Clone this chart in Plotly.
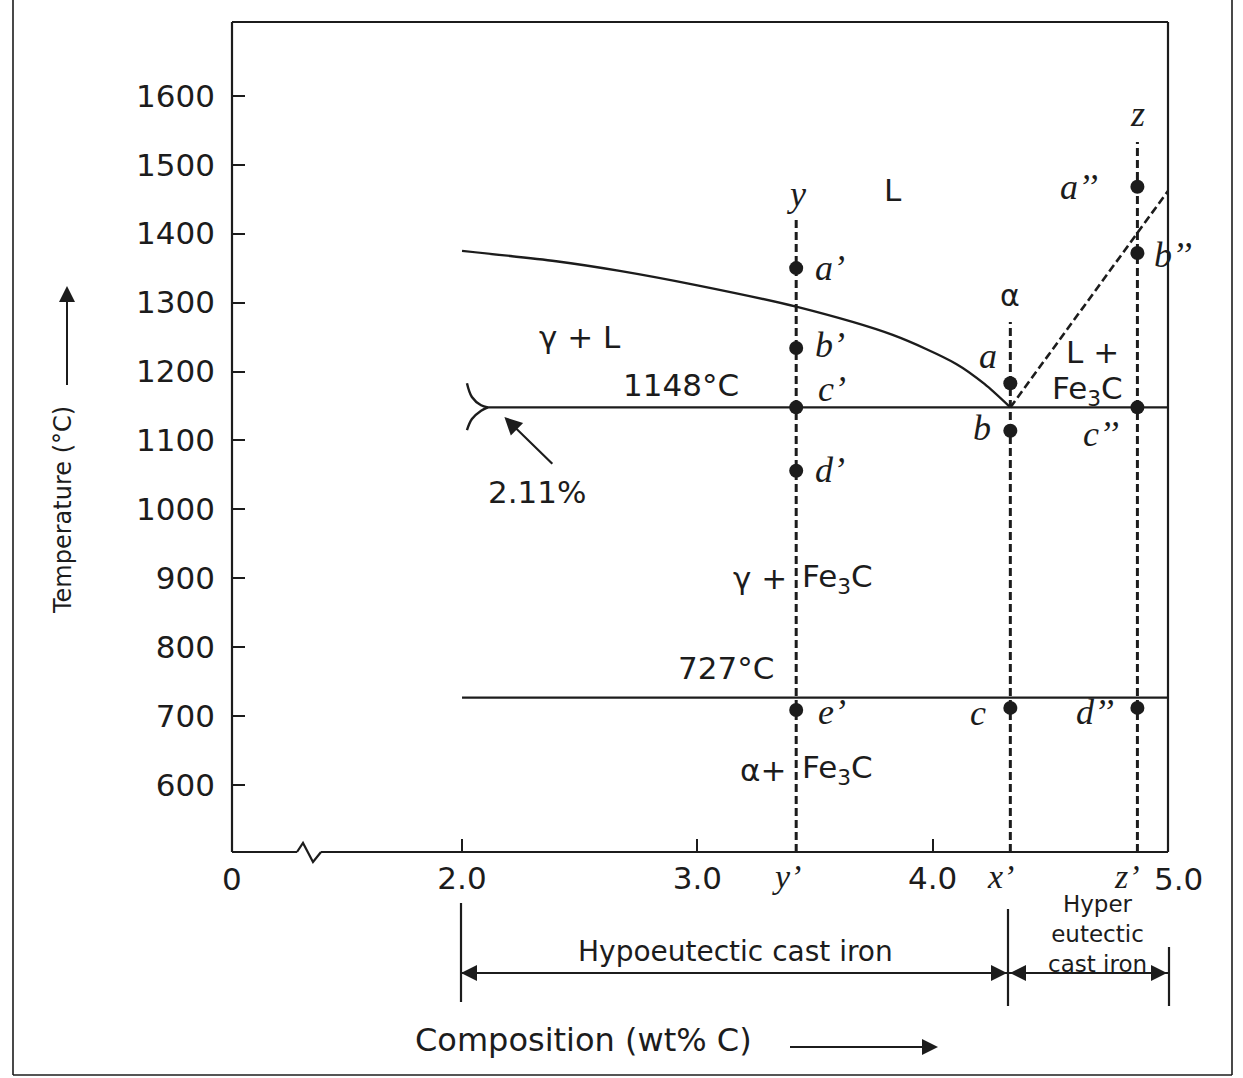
import plotly.graph_objects as go

# ---------------- data ----------------
# composition axis (wt% C); the stretch 0 -> 2.0 is drawn compressed behind an axis break
x_range = [1.0225, 5.0]
t_range = [503, 1707]
t_ticks = [600, 700, 800, 900, 1000, 1100, 1200, 1300, 1400, 1500, 1600]
x_ticks = [2.0, 3.0, 4.0]
x_tick_text = ["2.0", "3.0", "4.0"]

# invariant reactions
eutectic_t = 1148
eutectoid_t = 727
austenite_max_c = 2.11
hypo_start_c = 2.0
c_max = 5.0

# liquidus boundary between L and γ + L
liquidus_c = [2.0, 2.4, 2.67, 3.0, 3.42, 3.83, 4.1, 4.22, 4.33]
liquidus_t = [1375, 1360, 1346, 1325, 1294, 1253, 1211, 1182, 1148]

# Fe3C liquidus (dashed)
cementite_liq_c = [4.33, 5.0]
cementite_liq_t = [1148, 1462]

# solvus stub drawn at the 2.11 % limit (upper and lower arm)
solvus_up_c = [2.021, 2.042, 2.081, 2.11]
solvus_up_t = [1183, 1163, 1151, 1148]
solvus_lo_c = [2.11, 2.081, 2.042, 2.021]
solvus_lo_t = [1148, 1143, 1131, 1115]

# alloys that are followed on cooling
alloy_c = [3.42, 4.33, 4.87]
alloy_top_t = [1420, 1272, 1533]
alloy_names = ["y", "α", "z"]
alloy_ticks = ["y’", "x’", "z’"]

# points on each cooling path
hypo_t = [1350, 1234, 1148, 1056, 709]
hypo_labels = ["a’", "b’", "c’", "d’", "e’"]
eut_t = [1183, 1114, 712]
eut_labels = ["a", "b", "c"]
hyper_t = [1468, 1372, 1148, 712]
hyper_labels = ["a’’", "b’’", "c’’", "d’’"]

# ---------------- layout helpers ----------------
W, H = 1243, 1078
PL, PR, PT, PB = 232, 1168, 22, 852


def pxx(xp):
    return (xp - PL) / (PR - PL)


def pxy(yp):
    return (PB - yp) / (PB - PT)


INK = "#1c1c1c"
SANS = "DejaVu Sans, Verdana, sans-serif"
SERIF = "Liberation Serif, Times New Roman, serif"
DASH = "8px,4px"

fig = go.Figure()

# liquidus
fig.add_trace(go.Scatter(x=liquidus_c, y=liquidus_t, mode="lines",
                         line=dict(color=INK, width=2.4, shape="spline", smoothing=0.8),
                         hoverinfo="skip"))
# eutectic and eutectoid isotherms
fig.add_trace(go.Scatter(x=[austenite_max_c, c_max], y=[eutectic_t, eutectic_t], mode="lines",
                         line=dict(color=INK, width=2.4), hoverinfo="skip"))
fig.add_trace(go.Scatter(x=[hypo_start_c, c_max], y=[eutectoid_t, eutectoid_t], mode="lines",
                         line=dict(color=INK, width=2.4), hoverinfo="skip"))
# solvus stub marking 2.11 %
for cs, ts in [(solvus_up_c, solvus_up_t), (solvus_lo_c, solvus_lo_t)]:
    fig.add_trace(go.Scatter(x=cs, y=ts, mode="lines",
                             line=dict(color=INK, width=2.4, shape="spline", smoothing=1.0),
                             hoverinfo="skip"))
# Fe3C liquidus
fig.add_trace(go.Scatter(x=cementite_liq_c, y=cementite_liq_t, mode="lines",
                         line=dict(color=INK, width=2.6, dash=DASH), hoverinfo="skip"))
# alloy verticals
for c, top in zip(alloy_c, alloy_top_t):
    fig.add_trace(go.Scatter(x=[c, c], y=[t_range[0], top], mode="lines",
                             line=dict(color=INK, width=3, dash=DASH), hoverinfo="skip"))

# cooling-path points
for c, temps in zip(alloy_c, [hypo_t, eut_t, hyper_t]):
    fig.add_trace(go.Scatter(x=[c] * len(temps), y=temps, mode="markers",
                             marker=dict(color=INK, size=14), hoverinfo="skip"))

annotations = []


def txt(x, y, s, size=31, font=SANS, xref="x", yref="y", xanchor="center", xshift=0, yshift=0,
        italic=False):
    annotations.append(dict(x=x, y=y, xref=xref, yref=yref, text=s, showarrow=False,
                            xanchor=xanchor, yanchor="middle", xshift=xshift, yshift=yshift,
                            font=dict(family=font, size=size, color=INK,
                                      style="italic" if italic else "normal")))


def arrowhead(x, y, ax, ay, xref="paper", yref="paper"):
    annotations.append(dict(x=x, y=y, xref=xref, yref=yref, ax=ax, ay=ay, text="",
                            showarrow=True, arrowhead=2, arrowsize=1.6, arrowwidth=2,
                            arrowcolor=INK, standoff=0))


LAB = 36
# point labels (offsets in pixels from each dot)
hypo_off = [(34, 0), (34, 3), (36, 18), (34, 1), (36, -2)]
for t, lab, (dx, dy) in zip(hypo_t, hypo_labels, hypo_off):
    txt(alloy_c[0], t, lab, size=LAB, font=SERIF, italic=True, xshift=dx, yshift=dy)
eut_off = [(-22, 27), (-28, 3), (-32, -5)]
for t, lab, (dx, dy) in zip(eut_t, eut_labels, eut_off):
    txt(alloy_c[1], t, lab, size=LAB, font=SERIF, italic=True, xshift=dx, yshift=dy)
hyper_off = [(-58, 0), (36, -2), (-36, -27), (-42, -4)]
for t, lab, (dx, dy) in zip(hyper_t, hyper_labels, hyper_off):
    txt(alloy_c[2], t, lab, size=LAB, font=SERIF, italic=True, xshift=dx, yshift=dy)

# alloy names above the dashed verticals
txt(alloy_c[0], alloy_top_t[0], alloy_names[0], size=LAB, font=SERIF, italic=True, yshift=26)
txt(alloy_c[1], alloy_top_t[1], alloy_names[1], size=30, yshift=26)
txt(alloy_c[2], alloy_top_t[2], alloy_names[2], size=LAB, font=SERIF, italic=True, yshift=28)

# phase fields and temperatures
txt(3.83, 1463, "L")
txt(2.50, 1250, "γ + L")
txt(2.93, 1180, "1148°C")
txt(2.32, 1025, "2.11%")
# two-phase fields split by the y' vertical
txt(alloy_c[0], 900, "γ +", xanchor="right", xshift=-7)
txt(alloy_c[0], 900, "Fe<sub>3</sub>C", xanchor="left", xshift=4)
txt(3.12, 770, "727°C")
txt(alloy_c[0], 622, "α+", xanchor="right", xshift=-8)
txt(alloy_c[0], 622, "Fe<sub>3</sub>C", xanchor="left", xshift=4)
txt(4.68, 1228, "L +")
txt(4.66, 1173, "Fe<sub>3</sub>C")

# arrow pointing at the 2.11 % solvus
annotations.append(dict(x=2.18, y=1134, ax=2.39, ay=1064, xref="x", yref="y", axref="x", ayref="y",
                        text="", showarrow=True, arrowhead=2, arrowsize=1.6, arrowwidth=2.2,
                        arrowcolor=INK, standoff=0))

# composition tick labels placed below the axis
lab_y = pxy(879)
txt(0, lab_y, "0", xref="paper", yref="paper")
for c, lab in zip(alloy_c, alloy_ticks):
    txt(c, pxy(877), lab, size=34, font=SERIF, italic=True, yref="paper", xshift=-10)
txt(c_max, lab_y, "5.0", yref="paper", xshift=10)

# cast iron ranges under the axis
arrow_y = pxy(973)
arrowhead(pxx(461), arrow_y, 40, 0)
arrowhead(pxx(1007), arrow_y, -40, 0)
arrowhead(pxx(1010), arrow_y, 40, 0)
arrowhead(pxx(1167), arrow_y, -40, 0)
txt(pxx(735), pxy(951), "Hypoeutectic cast iron", size=28, xref="paper", yref="paper")
txt(pxx(1097), pxy(934), "Hyper<br>eutectic<br>cast iron", size=23, xref="paper", yref="paper")

# axis titles with their direction arrows
txt(pxx(583), pxy(1040), "Composition (wt% C)", size=32, xref="paper", yref="paper")
arrowhead(pxx(938), pxy(1047), -40, 0)
annotations.append(dict(x=pxx(63), y=pxy(510), xref="paper", yref="paper",
                        text="Temperature (°C)", showarrow=False, textangle=-90,
                        xanchor="center", yanchor="middle",
                        font=dict(family=SANS, size=24, color=INK)))
arrowhead(pxx(67), pxy(286), 0, 40)


# frame, axis break and bracket lines
def seg(x0, y0, x1, y1, w=2.2):
    return dict(type="line", xref="paper", yref="paper", x0=pxx(x0), y0=pxy(y0),
                x1=pxx(x1), y1=pxy(y1), line=dict(color=INK, width=w))


shapes = [
    seg(PL, PT, PL, PB), seg(PL, PT, PR, PT), seg(PR, PT, PR, PB),
    seg(PL, PB, 297, PB), seg(321, PB, PR, PB),
    dict(type="path", xref="paper", yref="paper",
         path="M {:.5f},{:.5f} L {:.5f},{:.5f} L {:.5f},{:.5f} L {:.5f},{:.5f}".format(
             pxx(297), pxy(PB), pxx(303), pxy(843), pxx(313), pxy(862), pxx(321), pxy(PB)),
         line=dict(color=INK, width=2.2)),
    # range brackets
    seg(461, 903, 461, 1002), seg(1008, 909, 1008, 1006), seg(1169, 947, 1169, 1006),
    seg(461, 973, 1008, 973, 2), seg(1008, 973, 1169, 973, 2),
    # direction arrows of the axis titles
    seg(790, 1047, 930, 1047, 2), seg(67, 385, 67, 300, 2),
    # page border of the printed figure
    seg(13, 0, 13, 1075, 1.6), seg(13, 1075, 1232, 1075, 1.6), seg(1232, 0, 1232, 1075, 1.6),
]

fig.update_layout(
    width=W, height=H,
    margin=dict(l=PL, r=W - PR, t=PT, b=H - PB, pad=0),
    paper_bgcolor="white", plot_bgcolor="white",
    showlegend=False,
    annotations=annotations,
    shapes=shapes,
    xaxis=dict(range=x_range, tickvals=x_ticks, ticktext=x_tick_text, ticks="inside",
               ticklen=13, tickwidth=2, tickcolor=INK, showgrid=False, zeroline=False,
               showline=False, ticklabelstandoff=5,
               tickfont=dict(family=SANS, size=31, color=INK)),
    yaxis=dict(range=t_range, tickvals=t_ticks, ticks="inside", ticklen=13, tickwidth=2,
               tickcolor=INK, showgrid=False, zeroline=False, showline=False,
               ticklabelstandoff=16,
               tickfont=dict(family=SANS, size=31, color=INK)),
)

fig.write_html("out.html")
